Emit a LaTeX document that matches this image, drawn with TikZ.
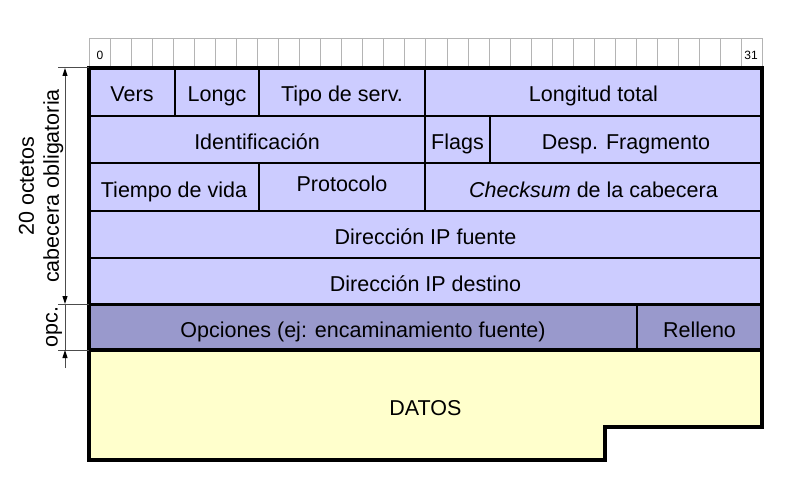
\documentclass[tikz,border=0pt]{standalone}
\usepackage{fontspec}
\setmainfont{Liberation Sans}
\usetikzlibrary{arrows.meta}
\definecolor{lav}{HTML}{CCCCFF}
\definecolor{opt}{HTML}{9999CC}
\definecolor{dat}{HTML}{FFFFCC}
\definecolor{rul}{HTML}{B4B4B4}
\tikzset{
  cell/.style={draw=black, line width=2.5pt, fill=lav, inner sep=0pt,
    text height=20pt, text depth=0pt, font=\fontsize{21.5}{25}\selectfont},
  optcell/.style={cell, fill=opt},
  rulercell/.style={draw=rul, line width=1pt, fill=white},
  rulertext/.style={font=\fontsize{12}{14}\selectfont, inner sep=0pt},
  dimline/.style={draw=black!70, line width=1pt},
  dimarrow/.style={dimline, arrows={Triangle[length=8pt,width=5pt,black]-Triangle[length=8pt,width=5pt,black]}},
  sidetext/.style={font=\fontsize{21.5}{25}\selectfont, rotate=90, align=center, inner sep=0pt},
}
\begin{document}
\begin{tikzpicture}[x=1pt,y=-1pt]
\useasboundingbox (0,0) rectangle (799,484);
% ruler
\foreach \i in {0,...,31}{
  \pgfmathsetmacro{\xa}{round(89+21.03*\i)+0.5}
  \pgfmathsetmacro{\xb}{round(89+21.03*(\i+1))+0.5}
  \draw[rulercell] (\xa,38.5) rectangle (\xb,68);
}
\node[rulertext] (r0) at (100,55) {0};
\node[rulertext] (r31) at (751,55) {31};
% data area
\draw[fill=dat, line width=4pt] (89,350) -- (762,350) -- (762,427) -- (605,427) -- (605,460) -- (89,460) -- cycle;
\node[cell, draw=none, fill=none] (datos) at (425.5,405.5) {DATOS};
% row 1
\node[cell, minimum width=86pt, minimum height=48pt] (vers) at (132,92) {Vers};
\node[cell, minimum width=84pt, minimum height=48pt] (longc) at (217,92) {Longc};
\node[cell, minimum width=166pt, minimum height=48pt] (tipo) at (342,92) {Tipo de serv.};
\node[cell, minimum width=337pt, minimum height=48pt] (long) at (593.5,92) {Longitud total};
% row 2
\node[cell, minimum width=336pt, minimum height=47pt] (ident) at (257,139.5) {Identificación};
\node[cell, minimum width=65pt, minimum height=47pt] (flags) at (457.5,139.5) {Flags};
\node[cell, minimum width=272pt, minimum height=47pt] (desp) at (626,139.5) {Desp. Fragmento};
% row 3
\node[cell, minimum width=170pt, minimum height=48pt] (ttl) at (174,187) {Tiempo de vida};
\node[cell, minimum width=166pt, minimum height=48pt] (proto) at (342,187) {};
\node[cell, draw=none, fill=none] (protot) at (342,181.5) {Protocolo};
\node[cell, minimum width=337pt, minimum height=48pt] (chk) at (593.5,187) {\textit{Checksum} de la cabecera};
% row 4, 5
\node[cell, minimum width=673pt, minimum height=47pt] (src) at (425.5,234.5) {Dirección IP fuente};
\node[cell, minimum width=673pt, minimum height=46pt] (dst) at (425.5,281) {Dirección IP destino};
% row 6
\node[optcell, minimum width=548pt, minimum height=46pt] (opts) at (363,327) {Opciones (ej: encaminamiento fuente)};
\node[optcell, line width=2pt, minimum width=125pt, minimum height=46pt] (rell) at (699.5,327) {Relleno};
\draw[line width=3pt] (89,304) -- (762,304);
% outer border of header
\draw[line width=4pt] (89,68) rectangle (762,350);
% dimensions
\coordinate (e0) at (58,68);
\coordinate (e1) at (58,304);
\coordinate (e2) at (58,350);
\coordinate (d0) at (65,68);
\coordinate (d1) at (65,304);
\coordinate (d2) at (65,350);
\coordinate (d3) at (65,368);
\draw[dimline] (e0) -- (89,68);
\draw[dimline] (e1) -- (89,304);
\draw[dimline] (e2) -- (89,350);
\draw[dimarrow] (d0) -- (d1);
\draw[dimline] (d1) -- (d2);
\draw[dimline, arrows={-Triangle[length=8pt,width=5pt,black]}] (d3) -- (d2);
\node[sidetext] (lbl20) at (41,186) {20 octetos\\cabecera obligatoria};
\node[sidetext] (lblopc) at (54,327) {opc.};
\end{tikzpicture}
\end{document}
